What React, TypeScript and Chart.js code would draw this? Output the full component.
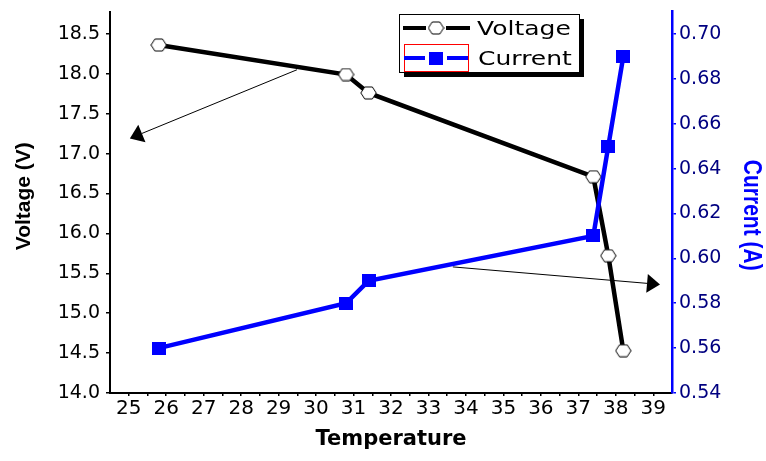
import { useEffect, useRef } from 'react';
import { Chart, registerables } from 'chart.js';

Chart.register(...registerables);

// ---- data ----
const temperature = [25.8, 30.8, 31.4, 37.4, 37.8, 38.2];
const voltage = [18.36, 17.99, 17.76, 16.71, 15.72, 14.53];
const current = [0.56, 0.58, 0.59, 0.61, 0.65, 0.69];
const seriesNames = ['Voltage', 'Current'];

// ---- ticks ----
const xMajorTicks = [25, 26, 27, 28, 29, 30, 31, 32, 33, 34, 35, 36, 37, 38, 39];
const voltageTicks = [14.0, 14.5, 15.0, 15.5, 16.0, 16.5, 17.0, 17.5, 18.0, 18.5];
const currentTicks = [0.54, 0.56, 0.58, 0.6, 0.62, 0.64, 0.66, 0.68, 0.7];
const currentMinorTicks = [0.55, 0.57, 0.59, 0.61, 0.63, 0.65, 0.67, 0.69, 0.71];

// ---- axis ranges ----
const xRange = [24.5, 39.5];
const voltageRange = [14, 18.78];
const currentRange = [0.54, 0.71];

// ---- annotation arrows (data coords on Temperature / Voltage axes) ----
const arrowFrom = [[29.49, 18.05], [33.65, 15.58]];
const arrowTo = [[25.03, 17.19], [39.18, 15.36]];

const titles = { x: 'Temperature', y: 'Voltage (V)', y1: 'Current (A)' };

function makeHex(): HTMLCanvasElement {
  const c = document.createElement('canvas');
  c.width = 17;
  c.height = 14;
  const g = c.getContext('2d')!;
  g.beginPath();
  g.moveTo(0.8, 7);
  g.lineTo(4.7, 1);
  g.lineTo(12.3, 1);
  g.lineTo(16.2, 7);
  g.lineTo(12.3, 13);
  g.lineTo(4.7, 13);
  g.closePath();
  g.fillStyle = '#fff';
  g.fill();
  g.strokeStyle = '#000';
  g.lineWidth = 1;
  g.stroke();
  return c;
}

function makeSquare(): HTMLCanvasElement {
  const c = document.createElement('canvas');
  c.width = 14;
  c.height = 13;
  const g = c.getContext('2d')!;
  g.fillStyle = '#0000ff';
  g.fillRect(0, 0, 14, 13);
  return c;
}

export default function App() {
  const ref = useRef<HTMLCanvasElement | null>(null);

  useEffect(() => {
    document.body.style.margin = '0';
    const canvas = ref.current;
    if (!canvas) return;
    const hex = makeHex();
    const sq = makeSquare();

    const xAll: number[] = [];
    for (let i = 50; i <= 78; i++) xAll.push(i / 2);

    const arrowsPlugin = {
      id: 'arrows',
      beforeDatasetsDraw(chart: any) {
        const { ctx, scales } = chart;
        ctx.save();
        ctx.strokeStyle = '#000';
        ctx.fillStyle = '#000';
        ctx.lineWidth = 1;
        for (let i = 0; i < arrowFrom.length; i++) {
          const x0 = scales.x.getPixelForValue(arrowFrom[i][0]);
          const y0 = scales.y.getPixelForValue(arrowFrom[i][1]);
          const x1 = scales.x.getPixelForValue(arrowTo[i][0]);
          const y1 = scales.y.getPixelForValue(arrowTo[i][1]);
          const dx = x1 - x0, dy = y1 - y0;
          const len = Math.hypot(dx, dy);
          const ux = dx / len, uy = dy / len;
          const hl = 13, hw = 9.5;
          const bx = x1 - ux * hl, by = y1 - uy * hl;
          ctx.beginPath();
          ctx.moveTo(x0, y0);
          ctx.lineTo(bx, by);
          ctx.stroke();
          ctx.beginPath();
          ctx.moveTo(x1, y1);
          ctx.lineTo(bx - uy * hw, by + ux * hw);
          ctx.lineTo(bx + uy * hw, by - ux * hw);
          ctx.closePath();
          ctx.fill();
        }
        ctx.restore();
      },
    };

    const overlayPlugin = {
      id: 'overlay',
      afterDraw(chart: any) {
        const { ctx, chartArea } = chart;
        const { left, right, top, bottom } = chartArea;
        ctx.save();
        // axis titles
        ctx.textAlign = 'center';
        ctx.textBaseline = 'middle';
        ctx.fillStyle = '#000';
        ctx.font = 'bold 21px "Liberation Sans"';
        ctx.save();
        ctx.translate(left - 86, (top + bottom) / 2 - 6);
        ctx.rotate(-Math.PI / 2);
        ctx.fillText(titles.y, 0, 0);
        ctx.restore();

        ctx.fillStyle = '#0000ff';
        ctx.save();
        ctx.translate(right + 79, (top + bottom) / 2 + 13);
        ctx.rotate(Math.PI / 2);
        ctx.scale(1, 1.25);
        ctx.fillText(titles.y1, 0, 0);
        ctx.restore();

        ctx.fillStyle = '#000';
        ctx.font = 'bold 21px "DejaVu Sans"';
        ctx.fillText(titles.x, (left + right) / 2, bottom + 47);

        // legend
        const lx = 399, ly = 14, lw = 180, lh = 58;
        ctx.fillStyle = '#000';
        ctx.fillRect(lx + 5, ly + 5, lw, lh);
        ctx.fillStyle = '#fff';
        ctx.fillRect(lx, ly, lw, lh);
        ctx.strokeStyle = '#000';
        ctx.lineWidth = 1;
        ctx.strokeRect(lx + 0.5, ly + 0.5, lw, lh);

        // row 1
        ctx.lineWidth = 4;
        ctx.strokeStyle = '#000';
        ctx.beginPath();
        ctx.moveTo(403, 28);
        ctx.lineTo(426, 28);
        ctx.moveTo(446, 28);
        ctx.lineTo(470, 28);
        ctx.stroke();
        ctx.drawImage(hex, 436 - hex.width / 2, 28 - hex.height / 2);
        // row 2
        ctx.strokeStyle = '#ff0000';
        ctx.lineWidth = 1;
        ctx.strokeRect(404.5, 44.5, 64, 27);
        ctx.strokeStyle = '#0000ff';
        ctx.lineWidth = 4;
        ctx.beginPath();
        ctx.moveTo(404, 58);
        ctx.lineTo(425, 58);
        ctx.moveTo(447, 58);
        ctx.lineTo(468, 58);
        ctx.stroke();
        ctx.drawImage(sq, 436 - sq.width / 2, 58 - sq.height / 2);

        ctx.fillStyle = '#000';
        ctx.font = '20px "DejaVu Sans"';
        ctx.textAlign = 'left';
        ctx.textBaseline = 'alphabetic';
        ctx.save();
        ctx.translate(477, 35);
        ctx.scale(1.25, 1);
        ctx.fillText(seriesNames[0], 0, 0);
        ctx.restore();
        ctx.save();
        ctx.translate(478, 65);
        ctx.scale(1.25, 1);
        ctx.fillText(seriesNames[1], 0, 0);
        ctx.restore();
        ctx.restore();
      },
    };

    const chart = new Chart(canvas, {
      type: 'line',
      data: {
        datasets: [
          {
            label: seriesNames[0],
            data: temperature.map((t, i) => ({ x: t, y: voltage[i] })),
            yAxisID: 'y',
            borderColor: '#000',
            backgroundColor: '#fff',
            borderWidth: 4.5,
            pointStyle: hex as any,
            pointRadius: 7,
            tension: 0,
            order: 1,
          },
          {
            label: seriesNames[1],
            data: temperature.map((t, i) => ({ x: t, y: current[i] })),
            yAxisID: 'y1',
            borderColor: '#0000ff',
            backgroundColor: '#0000ff',
            borderWidth: 4.5,
            pointStyle: sq as any,
            pointRadius: 7,
            tension: 0,
            order: 0,
          },
        ],
      },
      options: {
        animation: false,
        responsive: false,
        devicePixelRatio: 1,
        layout: { padding: { top: 6, left: 0, right: 0, bottom: 0 } },
        plugins: { legend: { display: false }, tooltip: { enabled: false } },
        events: [],
        scales: {
          x: {
            type: 'linear',
            min: xRange[0],
            max: xRange[1],
            afterBuildTicks: (s: any) => {
              s.ticks = xAll.map((v) => ({ value: v }));
            },
            afterFit: (s: any) => {
              s.height = 68;
              s.paddingLeft = 0;
              s.paddingRight = 0;
            },
            ticks: {
              autoSkip: false,
              maxRotation: 0,
              minRotation: 0,
              padding: 1,
              color: '#000',
              font: { family: 'DejaVu Sans', size: 20 },
              callback: (v: any) => (xMajorTicks.includes(v) ? String(v) : ''),
            },
            grid: { drawOnChartArea: false, drawTicks: true, tickLength: 3, color: '#000', lineWidth: 1.5 },
            border: { display: true, color: '#000', width: 2 },
          },
          y: {
            type: 'linear',
            position: 'left',
            min: voltageRange[0],
            max: voltageRange[1],
            afterBuildTicks: (s: any) => {
              s.ticks = voltageTicks.map((v) => ({ value: v }));
            },
            afterFit: (s: any) => {
              s.width = 110;
              s.paddingTop = 0;
              s.paddingBottom = 0;
            },
            ticks: {
              padding: 6,
              color: '#000',
              font: { family: 'DejaVu Sans', size: 19 },
              callback: (v: any) => Number(v).toFixed(1),
            },
            grid: { drawOnChartArea: false, drawTicks: true, tickLength: 4, color: '#000', lineWidth: 1.5 },
            border: { display: true, color: '#000', width: 2 },
          },
          y1: {
            type: 'linear',
            position: 'right',
            min: currentRange[0],
            max: currentRange[1],
            afterBuildTicks: (s: any) => {
              s.ticks = [...currentTicks, ...currentMinorTicks]
                .sort((a, b) => a - b)
                .map((v) => ({ value: v }));
            },
            afterFit: (s: any) => {
              s.width = 94;
              s.paddingTop = 0;
              s.paddingBottom = 0;
            },
            ticks: {
              padding: 3,
              color: '#000080',
              font: { family: 'DejaVu Sans', size: 19 },
              callback: (v: any) => (currentTicks.includes(v) ? Number(v).toFixed(2) : ''),
            },
            grid: { drawOnChartArea: false, drawTicks: true, tickLength: 4, color: '#0000ff', lineWidth: 1.5 },
            border: { display: true, color: '#0000ff', width: 2.5 },
          },
        },
      },
      plugins: [arrowsPlugin, overlayPlugin],
    });

    return () => {
      chart.destroy();
    };
  }, []);

  return (
    <div style={{ position: 'absolute', left: 0, top: 0, width: 766, height: 461, background: '#fff' }}>
      <canvas ref={ref} width={766} height={461} style={{ display: 'block', width: 766, height: 461 }} />
    </div>
  );
}
